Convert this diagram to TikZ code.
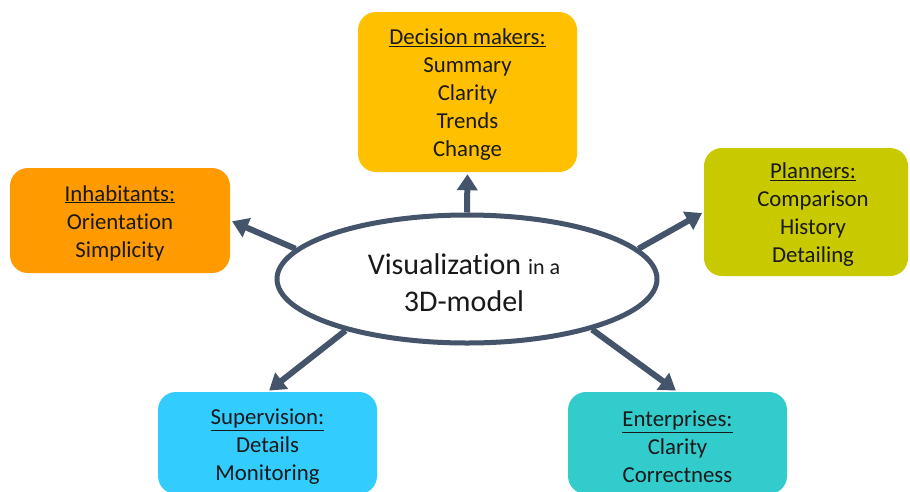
\documentclass[tikz,border=0pt]{standalone}
\usepackage{fontspec}
\setmainfont{Carlito}[Ligatures=CommonOff]
\usetikzlibrary{shapes.geometric,arrows.meta}
\definecolor{slate}{HTML}{44546A}
\definecolor{cdm}{HTML}{FFC000}
\definecolor{cinh}{HTML}{FF9A00}
\definecolor{cpl}{HTML}{C9C900}
\definecolor{csup}{HTML}{33CCFF}
\definecolor{cent}{HTML}{33CCCC}
\tikzset{
  box/.style={rounded corners=18pt, draw=none, inner sep=0pt},
  boxtext/.style={align=center, inner sep=0pt,
    font=\fontsize{22.8}{28}\selectfont, text=black!90},
  conn/.style={draw=slate, line width=6pt, -{Triangle[length=16pt,width=20pt]}, shorten >=2pt}
}
\begin{document}
\begin{tikzpicture}[x=1pt,y=-1pt]
\useasboundingbox (0,0) rectangle (910,491);
\begin{scope}
\clip (0,0) rectangle (910,491);
\node[box, fill=cdm, minimum width=219pt, minimum height=160pt] (dm) at (467.5,92) {};
\node[boxtext] (dmt) at (467.5,94.5)
  {\underline{Decision makers:}\\Summary\\Clarity\\Trends\\Change};
\node[box, fill=cinh, minimum width=220pt, minimum height=105pt] (inh) at (120,220.5) {};
\node[boxtext] (inht) at (120,223)
  {\underline{Inhabitants:}\\Orientation\\Simplicity};
\node[box, fill=cpl, minimum width=204pt, minimum height=128pt] (pl) at (806,212) {};
\node[boxtext] (plt) at (813,215)
  {\underline{Planners:}\\Comparison\\History\\Detailing};
\node[box, fill=csup, minimum width=219pt, minimum height=102pt] (sup) at (267.5,443) {};
\node[boxtext] (supt) at (267.5,447)
  {\underline{Supervision:}\\Details\\Monitoring};
\node[box, fill=cent, minimum width=219pt, minimum height=102pt] (ent) at (677.5,443) {};
\node[boxtext] (entt) at (677.5,447)
  {\underline{Enterprises:}\\Clarity\\Correctness};
\node[ellipse, draw=slate, line width=5pt, fill=white, minimum width=380pt, minimum height=128pt, inner sep=0pt] (ell) at (467,279) {};
\node[align=center, inner sep=0pt, font=\fontsize{30}{37}\selectfont, text=black!90] (lbl) at (464,283)
  {Visualization {\fontsize{22}{22}\selectfont in a}\\3D-model};
\draw[conn] (ell.north) -- (dm.south);
\draw[conn] (ell.170) -- (inh.east);
\draw[conn] (ell.10) -- (pl.west);
\draw[conn] (ell.203) -- (sup.north);
\draw[conn] (ell.-22) -- (ent.north);
\end{scope}
\end{tikzpicture}
\end{document}
